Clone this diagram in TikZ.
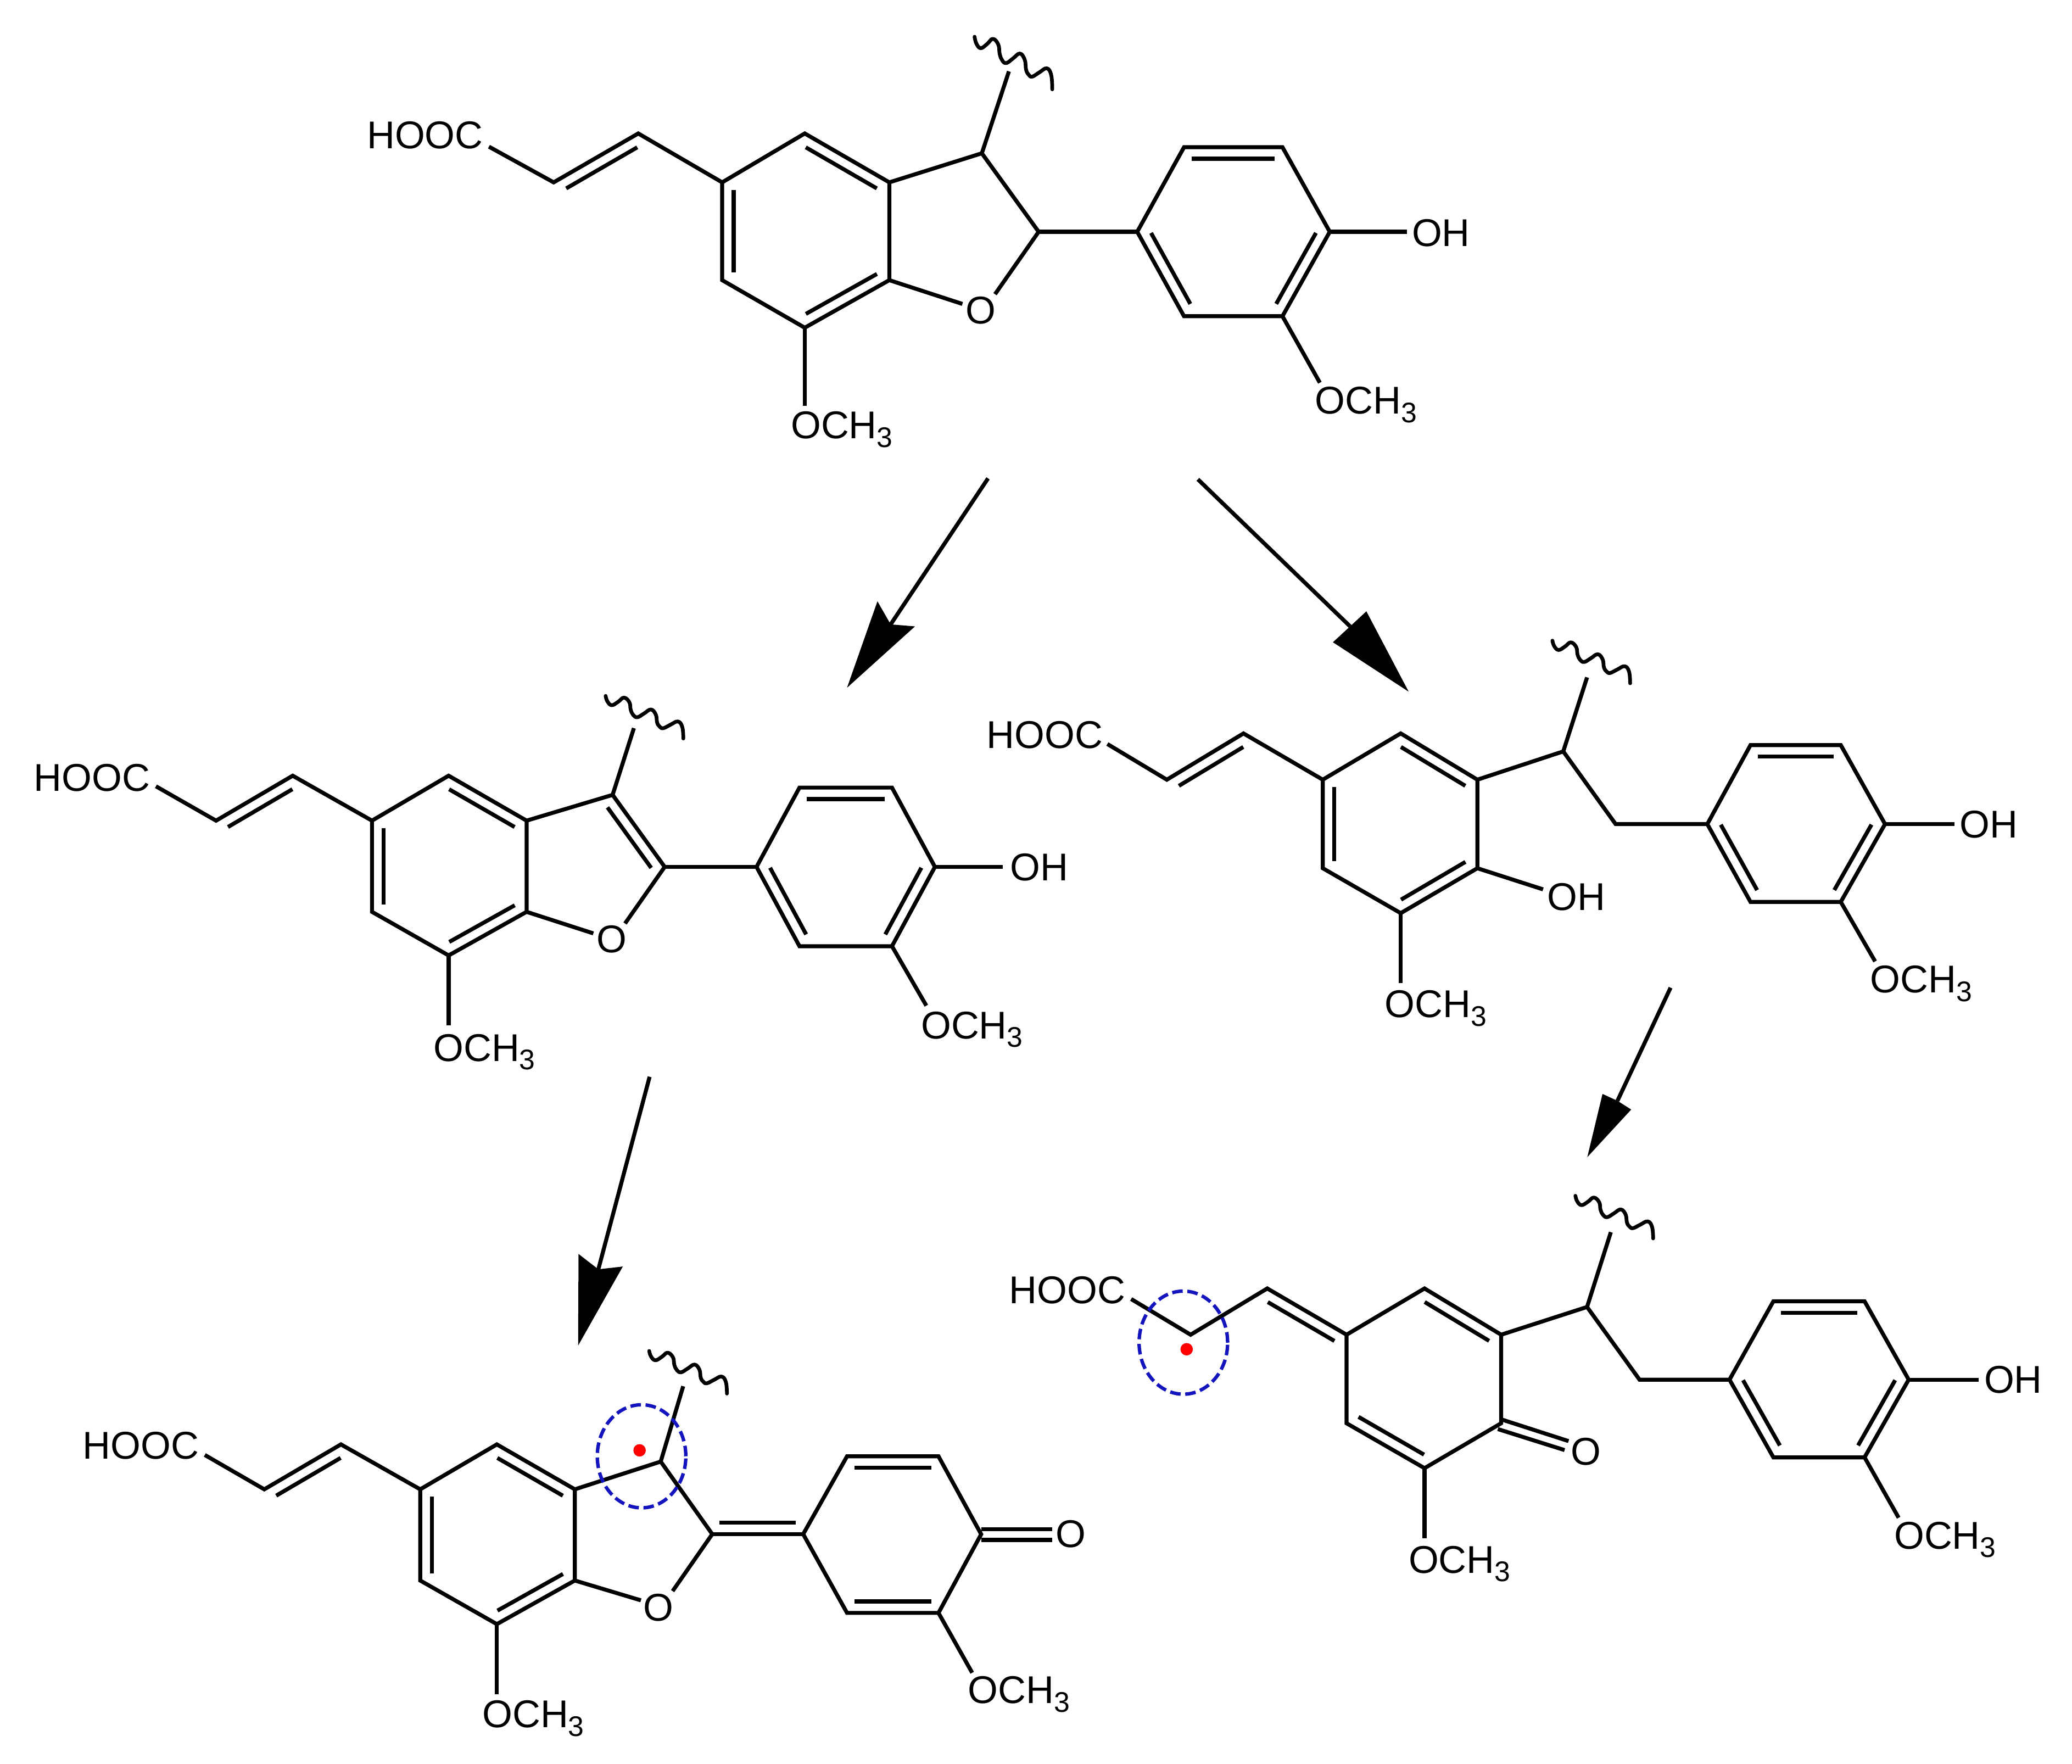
\documentclass[tikz,border=0pt]{standalone}
\usepackage{fontspec}
\setmainfont{Liberation Sans}
\usetikzlibrary{calc,shapes.geometric}
\newcommand\subthree{\raisebox{-6.5pt}{\fontsize{21.5}{21.5}\selectfont 3}}
\newcommand\dbl[2]{\draw[bond] ($(#1)!.08!(#2)!8.7pt!90:(#2)$) -- ($(#2)!.08!(#1)!8.7pt!-90:(#1)$);}
\newcommand\pts[1]{\foreach \n/\x/\y in {#1} \coordinate (\n) at (\x,\y);}
\newcommand\wavy[2]{\draw[wave,shift={(#1)},yscale=#2] plot[smooth,tension=.7] coordinates {(0,0) (1.3,5) (4.6,8.7) (9.5,5.5) (13.9,1.6) (18,6) (19,13) (21,18) (24.1,19.9) (29,16.5) (34.3,12.7) (38,17.5) (39,25) (41,28.8) (43.6,30.2) (49,27) (54.7,23.9) (58,29) (58.8,39.8)};}
\newcommand\rxnarrow[5]{\draw[rxn] (#1)--(#4); \fill[black] (#2)--(#3)--(#4)--(#5)--cycle;}
\definecolor{spotblue}{RGB}{20,20,190}
\tikzset{
  bond/.style={line width=3pt,black,line join=miter,line cap=butt},
  wave/.style={line width=2.8pt,black,line cap=round,line join=round},
  atom/.style={inner sep=0pt,outer sep=0pt,anchor=base west,font=\fontsize{29.3}{30}\selectfont},
  rxn/.style={line width=3pt,black},
  spot/.style={ellipse,draw=spotblue,line width=2.6pt,dash pattern=on 8pt off 3.5pt,inner sep=0pt,minimum width=67pt,minimum height=78pt},
  radical/.style={circle,fill=red,inner sep=0pt,minimum size=9.4pt},
}
\begin{document}
\begin{tikzpicture}[x=1pt,y=-1pt]
\useasboundingbox (0,0) rectangle (1568,1334.8);
\fill[white] (0,0) rectangle (1568,1334.8);

% ---- molecule A (top)
\pts{a1/546.5/138,a2/609/101,a3/673/138,a4/673/212,a5/609/248,a6/546.5/212,
  at/370/111,ab/419/138,ac/483/101,af/743/116,ag/786/175.4,
  aoa/728.3/230,aob/753/222.6,asw/763.5/54,aw1/737.5/27.8,
  r1/860.6/175.4,r2/896/111.4,r3/970.5/111.4,r4/1006.3/175.4,r5/970.5/239.3,r6/896/239.3,
  ao1/1064.6/175.4,ao2/998.8/289.6,ao3/609/307}
\node[atom] (ah) at (277.7,112.6) {HOOC};
\node[atom] (ao) at (731,245) {O};
\node[atom] (aoh) at (1068.5,186.2) {OH};
\node[atom] (am1) at (995.2,313.3) {OCH\subthree};
\node[atom] (am2) at (598.5,332) {OCH\subthree};
\draw[bond] (a1)--(a2)--(a3)--(a4)--(a5)--(a6)--cycle;
\dbl{a3}{a2}\dbl{a1}{a6}\dbl{a5}{a4}
\draw[bond] (at)--(ab)--(ac)--(a1);\dbl{ac}{ab}
\draw[bond] (a3)--(af)--(ag)--(aob);\draw[bond] (a4)--(aoa);
\draw[bond] (af)--(asw);\wavy{aw1}{1}
\draw[bond] (ag)--(r1);
\draw[bond] (r1)--(r2)--(r3)--(r4)--(r5)--(r6)--cycle;
\dbl{r3}{r2}\dbl{r5}{r4}\dbl{r1}{r6}
\draw[bond] (r4)--(ao1);\draw[bond] (r5)--(ao2);\draw[bond] (a5)--(ao3);

% ---- molecule B (middle left)
\pts{b1/281.5/621,b2/339.5/587,b3/398.5/621,b4/398.5/690,b5/339.5/723,b6/281.5/690,
  bt/118/595,bb/163.5/621,bc/221.5/587,bf/463.6/601.5,bg/503/656,
  boa/449/706.3,bob/473/698.8,bsw/479.7/551,bw1/458.3/526.6,
  s1/572.5/656,s2/605/596,s3/675/596,s4/707.5/656,s5/675/716,s6/605/716,
  bo1/759/656,bo2/701/761,bo3/339.5/776}
\node[atom] (bh) at (25.7,598.5) {HOOC};
\node[atom] (bo) at (451.7,721) {O};
\node[atom] (boh) at (764.5,666.5) {OH};
\node[atom] (bm1) at (697,786) {OCH\subthree};
\node[atom] (bm2) at (328,803) {OCH\subthree};
\draw[bond] (b1)--(b2)--(b3)--(b4)--(b5)--(b6)--cycle;
\dbl{b3}{b2}\dbl{b1}{b6}\dbl{b5}{b4}
\draw[bond] (bt)--(bb)--(bc)--(b1);\dbl{bc}{bb}
\draw[bond] (b3)--(bf)--(bg)--(bob);\draw[bond] (b4)--(boa);\dbl{bg}{bf}
\draw[bond] (bf)--(bsw);\wavy{bw1}{.81}
\draw[bond] (bg)--(s1);
\draw[bond] (s1)--(s2)--(s3)--(s4)--(s5)--(s6)--cycle;
\dbl{s3}{s2}\dbl{s5}{s4}\dbl{s1}{s6}
\draw[bond] (s4)--(bo1);\draw[bond] (s5)--(bo2);\draw[bond] (b5)--(bo3);

% ---- molecule C (middle right)
\pts{c1/1001/590,c2/1060/555,c3/1118/590,c4/1118/657,c5/1060/691,c6/1001/657,
  ct/838/563,cb/883/590,cc/941/555,cf/1183/568.6,cg/1222.6/623.6,
  csw/1201/512.6,cw1/1174.8/484.8,
  t1/1292/623.6,t2/1324.7/563.8,t3/1393/563.8,t4/1426.5/623.6,t5/1393/682.5,t6/1324.7/682.5,
  co1/1479/623.6,co2/1419/727.5,co3/1060/744,co4/1167.7/673}
\node[atom] (ch) at (746.7,566.3) {HOOC};
\node[atom] (coh) at (1483,634) {OH};
\node[atom] (cm1) at (1415.4,751.3) {OCH\subthree};
\node[atom] (cm2) at (1048,770) {OCH\subthree};
\node[atom] (coh2) at (1171,688.7) {OH};
\draw[bond] (c1)--(c2)--(c3)--(c4)--(c5)--(c6)--cycle;
\dbl{c3}{c2}\dbl{c1}{c6}\dbl{c5}{c4}
\draw[bond] (ct)--(cb)--(cc)--(c1);\dbl{cc}{cb}
\draw[bond] (c3)--(cf)--(cg)--(t1);
\draw[bond] (cf)--(csw);\wavy{cw1}{.81}
\draw[bond] (t1)--(t2)--(t3)--(t4)--(t5)--(t6)--cycle;
\dbl{t3}{t2}\dbl{t5}{t4}\dbl{t1}{t6}
\draw[bond] (t4)--(co1);\draw[bond] (t5)--(co2);\draw[bond] (c5)--(co3);\draw[bond] (c4)--(co4);

% ---- molecule D (bottom left)
\pts{d1/318/1127,d2/376/1093,d3/435/1127,d4/435/1196,d5/376/1229,d6/318/1196,
  dt/155/1101,db/200/1127,dc/258/1093,df/500/1106,dg/539/1160.9,
  doa/485/1211,dob/509/1204,dsw/517/1049,dw1/491.3/1022.3,
  u1/607.8/1160.9,u2/641/1102,u3/710.2/1102,u4/742.5/1161,u5/710.2/1220.5,u6/641/1220.5,
  do2/735.7/1265.8,do3/376/1282,
  dq1/742.5/1157.2,dq2/796.4/1157.2,dq3/742.5/1165.3,dq4/796.4/1165.3,dsc/485.5/1102}
\node[atom] (dh) at (62.7,1103.9) {HOOC};
\node[atom] (do) at (487,1226.4) {O};
\node[atom] (dko) at (799,1171) {O};
\node[atom] (dm1) at (732.6,1289) {OCH\subthree};
\node[atom] (dm2) at (365,1307.4) {OCH\subthree};
\draw[bond] (d1)--(d2)--(d3)--(d4)--(d5)--(d6)--cycle;
\dbl{d3}{d2}\dbl{d1}{d6}\dbl{d5}{d4}
\draw[bond] (dt)--(db)--(dc)--(d1);\dbl{dc}{db}
\draw[bond] (d3)--(df)--(dg)--(dob);\draw[bond] (d4)--(doa);
\draw[bond] (df)--(dsw);\wavy{dw1}{.81}
\draw[bond] (dg)--(u1);\dbl{dg}{u1}
\draw[bond] (u1)--(u2)--(u3)--(u4)--(u5)--(u6)--cycle;
\dbl{u3}{u2}\dbl{u6}{u5}
\draw[bond] (dq1)--(dq2);\draw[bond] (dq3)--(dq4);
\draw[bond] (u5)--(do2);\draw[bond] (d5)--(do3);
\node[spot] (dspot) at (dsc) {};
\node[radical] (ddot) at (484,1097.5) {};

% ---- molecule E (bottom right)
\pts{e1/1019/1010,e2/1078/975,e3/1136/1010,e4/1136/1077,e5/1078/1111,e6/1019/1077,
  et/856/983,eb/901/1010,ec/959/975,ef/1201/989,eg/1240.7/1044,
  esw/1219/932.4,ew1/1192.2/904.9,
  v1/1308.8/1044,v2/1342/984.7,v3/1411/984.7,v4/1444.4/1044,v5/1411/1102.8,v6/1342/1102.8,
  eo1/1497.4/1044,eo2/1436.8/1148.5,eo3/1078/1164,
  eq1/1136.5/1074.2,eq2/1187/1090.5,eq3/1133.5/1081.4,eq4/1184/1097.3,esc/895.5/1016}
\node[atom] (eh) at (763.7,986.5) {HOOC};
\node[atom] (eko) at (1188.8,1108.6) {O};
\node[atom] (eoh) at (1501.5,1054.3) {OH};
\node[atom] (em1) at (1433.4,1172) {OCH\subthree};
\node[atom] (em2) at (1066,1190.3) {OCH\subthree};
\draw[bond] (e1)--(e2)--(e3)--(e4)--(e5)--(e6)--cycle;
\dbl{e3}{e2}\dbl{e6}{e5}
\draw[bond] (et)--(eb)--(ec)--(e1);\dbl{e1}{ec}
\draw[bond] (e3)--(ef)--(eg)--(v1);
\draw[bond] (ef)--(esw);\wavy{ew1}{.81}
\draw[bond] (v1)--(v2)--(v3)--(v4)--(v5)--(v6)--cycle;
\dbl{v3}{v2}\dbl{v5}{v4}\dbl{v1}{v6}
\draw[bond] (eq1)--(eq2);\draw[bond] (eq3)--(eq4);
\draw[bond] (v4)--(eo1);\draw[bond] (v5)--(eo2);\draw[bond] (e5)--(eo3);
\node[spot] (espot) at (esc) {};
\node[radical] (edot) at (898,1021) {};

% ---- reaction arrows: start, tip, first barb, notch, second barb
\pts{k1s/747.7/362,k1t/641/520.4,k1a/664/455,k1n/674/472.5,k1b/692.4/474,
  k2s/906.5/362.7,k2t/1066/523.4,k2a/1034/462.6,k2n/1021.7/474,k2b/1008.7/486,
  k3s/491.6/814.8,k3t/437.5/1018.2,k3a/437.8/948.9,k3n/452.8/960.5,k3b/471.3/958.4,
  k4s/1264.2/747.4,k4t/1201.2/875.6,k4a/1212.7/827.8,k4n/1224/833,k4b/1234.4/839.6}
\rxnarrow{k1s}{k1t}{k1a}{k1n}{k1b}
\rxnarrow{k2s}{k2t}{k2a}{k2n}{k2b}
\rxnarrow{k3s}{k3t}{k3a}{k3n}{k3b}
\rxnarrow{k4s}{k4t}{k4a}{k4n}{k4b}
\end{tikzpicture}
\end{document}
